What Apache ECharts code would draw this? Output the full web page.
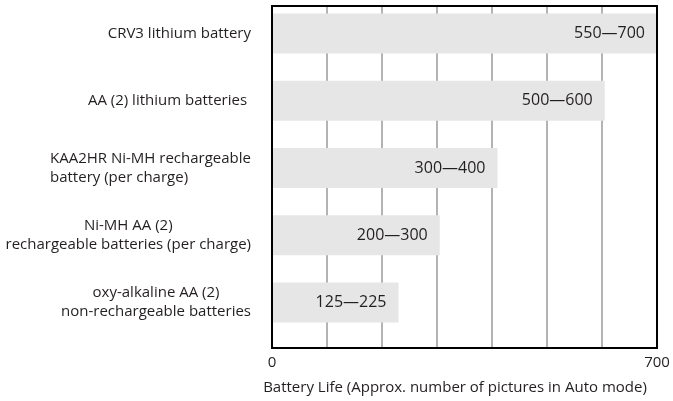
<!DOCTYPE html>
<html>
<head>
<meta charset="utf-8">
<script src="https://cdn.jsdelivr.net/npm/echarts@6/dist/echarts.min.js"></script>
<style>
  html, body { margin: 0; padding: 0; background: #fff; }
  #chart { width: 673px; height: 401px; }
</style>
</head>
<body>
<div id="chart"></div>
<script>
// battery types, top to bottom
const categories = [
  'CRV3 lithium battery',
  'AA (2) lithium batteries ',
  'KAA2HR Ni-MH rechargeable\nbattery (per charge)',
  'Ni-MH AA (2)\nrechargeable batteries (per charge)',
  'oxy-alkaline AA (2)\nnon-rechargeable batteries'
]
// range printed on each bar
const rangeLow = [550, 500, 300, 200, 125]
const rangeHigh = [700, 600, 400, 300, 225]
// where each bar ends
const barEnds = [700, 605, 410, 305, 230]
const tickLabels = [0, 700]
const axisTitle = 'Battery Life (Approx. number of pictures in Auto mode)'

const textColor = '#231f20'
const font = 'Open Sans'
// line alignment of the wrapped labels
const lineAlign = ['right', 'right', 'left', 'center', 'center']

const chart = echarts.init(document.getElementById('chart'))

const richLine = a => ({ align: a, fontSize: 15, lineHeight: 19, fontFamily: font, color: textColor })

const option = {
  animation: false,
  grid: [
    // frame + gridlines
    { left: 272, right: 16, top: 6, height: 342, show: true, z: 3,
      borderColor: '#000', borderWidth: 2, backgroundColor: 'transparent' },
    // bars
    { left: 272, right: 16, top: -4, height: 340 }
  ],
  xAxis: [
    {
      gridIndex: 0, type: 'value', min: 0, max: 700, interval: 100,
      axisLine: { show: true, lineStyle: { color: '#000', width: 2 } },
      axisTick: { show: false },
      splitLine: { show: true, lineStyle: { color: '#b3b3b3', width: 2 } },
      axisLabel: {
        margin: 7, fontSize: 15, fontFamily: font, color: textColor,
        formatter: v => tickLabels.includes(v) ? String(v) : ''
      },
      name: axisTitle,
      nameLocation: 'middle',
      nameGap: 32,
      nameTextStyle: { fontSize: 15, fontFamily: font, color: textColor, padding: [0, 19, 0, 0] }
    },
    { gridIndex: 1, type: 'value', min: 0, max: 700, show: false }
  ],
  yAxis: [
    { gridIndex: 0, type: 'value', min: 0, max: 1, show: false },
    {
      gridIndex: 1, type: 'category', inverse: true, data: categories,
      axisLine: { show: false }, axisTick: { show: false }, splitLine: { show: false },
      axisLabel: {
        margin: 21, fontSize: 15, fontFamily: font, color: textColor, lineHeight: 19,
        formatter: (v, i) => v.split('\n').map(s => '{' + lineAlign[i] + '|' + s + '}').join('\n'),
        rich: {
          left: richLine('left'),
          right: richLine('right'),
          center: richLine('center')
        }
      }
    }
  ],
  series: [{
    type: 'bar',
    xAxisIndex: 1,
    yAxisIndex: 1,
    data: barEnds,
    barWidth: 40,
    itemStyle: { color: '#e6e6e6' },
    label: {
      show: true,
      position: 'insideRight',
      distance: 12,
      fontSize: 16,
      fontFamily: font,
      color: textColor,
      formatter: p => rangeLow[p.dataIndex] + '—' + rangeHigh[p.dataIndex]
    }
  }]
}

chart.setOption(option)
</script>
</body>
</html>
